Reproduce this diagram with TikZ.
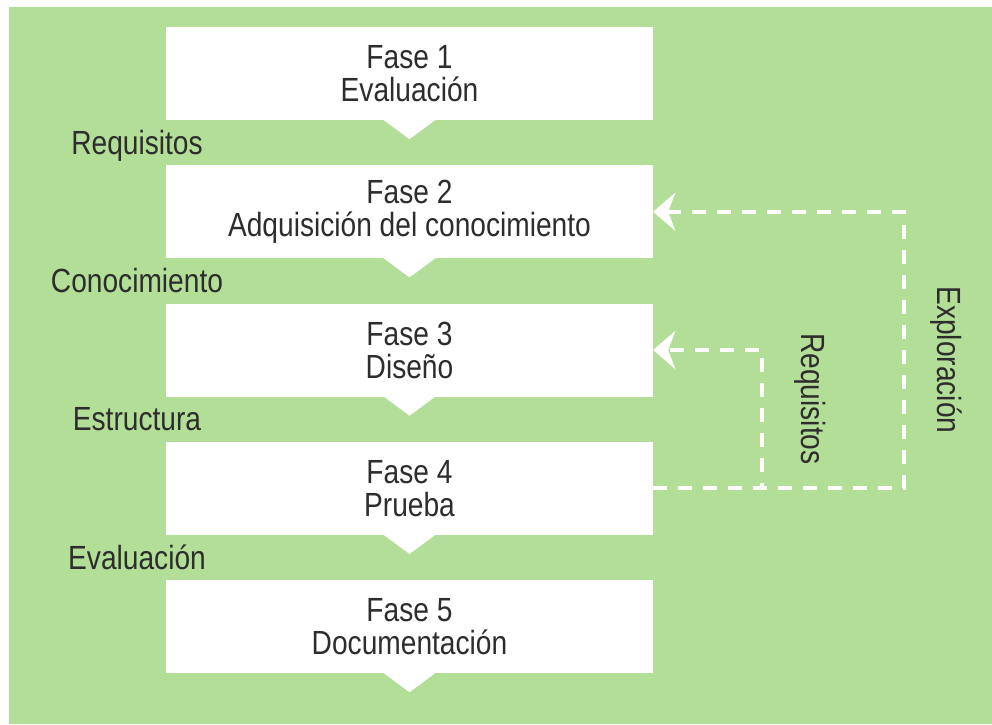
\documentclass[tikz,border=0pt]{standalone}
\usepackage{fontspec}
\setmainfont{Liberation Sans}[FakeStretch=0.84]
\usetikzlibrary{arrows.meta}
\definecolor{fondo}{RGB}{179,222,151}
\definecolor{texto}{RGB}{45,45,45}

\begin{document}
\begin{tikzpicture}[x=1pt, y=-1pt, font=\fontsize{33.5}{33}\selectfont,
  fase/.style={fill=white, minimum width=487pt, minimum height=93pt, inner sep=0pt, align=center, text=texto},
  etiqueta/.style={text=texto, anchor=base},
  retorno/.style={draw=white, line width=4pt, dash pattern=on 14pt off 11pt, -{Stealth[length=22pt, width=38pt, inset=7pt]}}]
\useasboundingbox (0,0) rectangle (992,724);
\fill[fondo] (9,7) rectangle (992,724);
\node (f1) [fase] at (409.5,73.5) {Fase 1\\Evaluación};
\node (f2) [fase] at (409.5,211.75) {Fase 2\\Adquisición del conocimiento};
\node (f3) [fase] at (409.5,350) {Fase 3\\Diseño};
\node (f4) [fase] at (409.5,488.25) {Fase 4\\Prueba};
\node (f5) [fase] at (409.5,626.5) {Fase 5\\Documentación};
\foreach \n in {1,...,5}
  \fill[white] ([yshift=1pt]f\n.south) ++(-27,0) -- ++(54,0) -- ++(-27,20) -- cycle;
\node (e1) [etiqueta] at (137,154.5) {Requisitos};
\node (e2) [etiqueta] at (137,292.5) {Conocimiento};
\node (e3) [etiqueta] at (137,430.5) {Estructura};
\node (e4) [etiqueta] at (137,569) {Evaluación};
\coordinate (ex) at (904,0);
\coordinate (rq) at (762,0);
\draw[retorno] (f4.east) -- (f4.east -| ex) -- (f2.east -| ex) -- (f2.east);
\draw[retorno] (f4.east) -- (f4.east -| rq) -- (f3.east -| rq) -- (f3.east);
\node (lex) [text=texto, rotate=-90] at (946,360) {Exploración};
\node (lrq) [text=texto, rotate=-90] at (810,399) {Requisitos};
\end{tikzpicture}
\end{document}
